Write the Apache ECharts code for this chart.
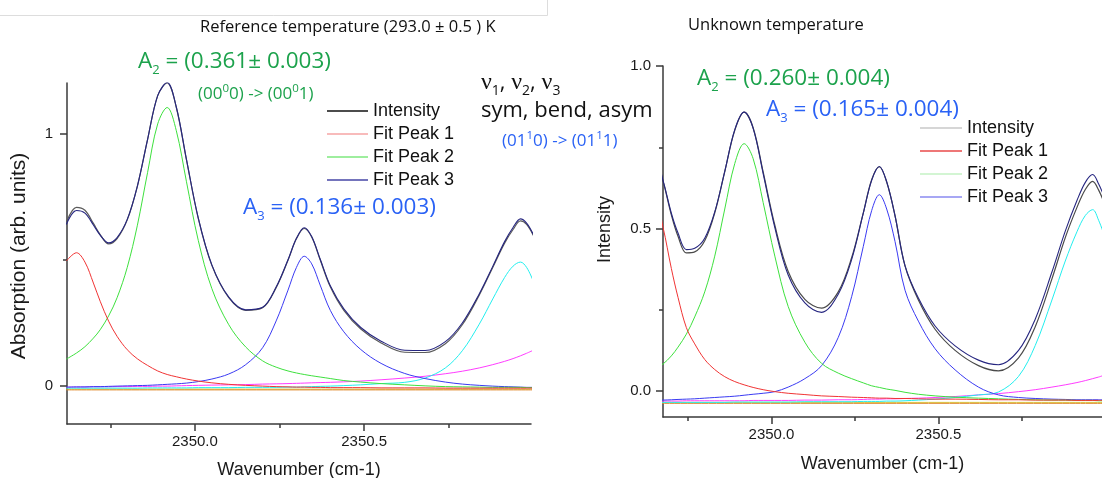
<!DOCTYPE html>
<html>
<head>
<meta charset="utf-8">
<script src="https://cdn.jsdelivr.net/npm/echarts@6.0.0/dist/echarts.min.js"></script>
<style>
html,body{margin:0;padding:0;background:#fff;}
#chart{width:1102px;height:478px;}
</style>
</head>
<body>
<div id="chart"></div>
<script>
// ---------- DATA ----------
const wavenumber = [2349.62, 2349.65, 2349.675, 2349.70, 2349.72, 2349.745, 2349.77, 2349.80, 2349.83, 2349.86,
  2349.89, 2349.918, 2349.945, 2349.975, 2350.01, 2350.05, 2350.10, 2350.15, 2350.20, 2350.24,
  2350.275, 2350.30, 2350.323, 2350.345, 2350.37, 2350.40, 2350.44, 2350.49, 2350.55, 2350.62,
  2350.68, 2350.74, 2350.79, 2350.84, 2350.88, 2350.915, 2350.94, 2350.962, 2350.98, 2351.00];

// Reference temperature panel
const refIntensity = [0.648,0.708,0.696,0.644,0.600,0.563,0.584,0.658,0.792,0.976,1.150,1.200,1.103,0.896,0.663,0.478,0.350,0.300,0.310,0.390,0.498,0.584,0.624,0.590,0.500,0.393,0.300,0.226,0.171,0.134,0.133,0.168,0.243,0.360,0.470,0.566,0.620,0.654,0.640,0.596];
const refFit = [0.640,0.695,0.685,0.638,0.598,0.567,0.588,0.660,0.792,0.976,1.150,1.202,1.105,0.898,0.665,0.480,0.352,0.302,0.312,0.392,0.500,0.585,0.627,0.592,0.503,0.397,0.306,0.232,0.178,0.142,0.141,0.176,0.250,0.365,0.474,0.572,0.628,0.662,0.645,0.600];
const refPeak1 = [0.495,0.528,0.491,0.408,0.336,0.257,0.197,0.144,0.108,0.082,0.060,0.046,0.037,0.028,0.020,0.013,0.007,0.003,0.000,-0.002,-0.003,-0.004,-0.004,-0.005,-0.005,-0.006,-0.006,-0.006,-0.007,-0.007,-0.007,-0.008,-0.008,-0.008,-0.008,-0.008,-0.008,-0.008,-0.008,-0.008];
const refPeak2 = [0.107,0.131,0.156,0.190,0.223,0.278,0.350,0.470,0.637,0.845,1.038,1.103,1.011,0.809,0.576,0.386,0.243,0.155,0.100,0.075,0.060,0.052,0.046,0.041,0.036,0.030,0.022,0.016,0.010,0.005,0.001,-0.002,-0.003,-0.004,-0.005,-0.005,-0.005,-0.005,-0.006,-0.006];
const refPeak3 = [-0.004,-0.003,-0.003,-0.002,-0.002,-0.001,0.000,0.001,0.002,0.003,0.005,0.007,0.009,0.012,0.018,0.028,0.048,0.085,0.152,0.258,0.380,0.470,0.514,0.484,0.400,0.300,0.215,0.145,0.090,0.050,0.030,0.016,0.008,0.003,0.000,-0.002,-0.003,-0.004,-0.005,-0.005];
const refPeak4 = [-0.008,-0.008,-0.008,-0.008,-0.008,-0.008,-0.008,-0.008,-0.008,-0.007,-0.007,-0.007,-0.007,-0.007,-0.006,-0.006,-0.006,-0.005,-0.005,-0.005,-0.004,-0.004,-0.003,-0.002,-0.001,0.000,0.002,0.005,0.010,0.015,0.032,0.072,0.140,0.245,0.345,0.430,0.475,0.491,0.470,0.415];
const refPeak5 = [-0.005,-0.004,-0.004,-0.003,-0.003,-0.003,-0.002,-0.002,-0.001,-0.001,0.000,0.000,0.001,0.002,0.003,0.004,0.005,0.006,0.008,0.009,0.010,0.011,0.012,0.013,0.014,0.015,0.017,0.020,0.025,0.032,0.039,0.049,0.059,0.072,0.085,0.098,0.109,0.120,0.130,0.142];

// Unknown temperature panel
const unkIntensity = [0.681,0.722,0.646,0.542,0.476,0.425,0.428,0.462,0.548,0.675,0.802,0.858,0.810,0.674,0.510,0.368,0.282,0.255,0.305,0.410,0.548,0.650,0.690,0.643,0.540,0.385,0.280,0.190,0.125,0.078,0.062,0.102,0.198,0.345,0.472,0.565,0.620,0.645,0.618,0.570];
const unkFit = [0.681,0.724,0.648,0.547,0.486,0.435,0.439,0.470,0.551,0.676,0.804,0.858,0.808,0.669,0.503,0.357,0.271,0.242,0.298,0.404,0.547,0.648,0.691,0.644,0.539,0.385,0.286,0.200,0.139,0.095,0.081,0.125,0.221,0.366,0.492,0.586,0.642,0.666,0.637,0.589];
const unkPeak1 = [0.569,0.596,0.504,0.377,0.288,0.195,0.145,0.097,0.066,0.044,0.029,0.019,0.011,0.004,-0.002,-0.007,-0.011,-0.015,-0.017,-0.019,-0.020,-0.021,-0.022,-0.022,-0.023,-0.023,-0.024,-0.025,-0.025,-0.026,-0.027,-0.027,-0.028,-0.028,-0.028,-0.029,-0.029,-0.029,-0.029,-0.029];
const unkPeak2 = [0.052,0.068,0.083,0.108,0.135,0.175,0.228,0.305,0.415,0.560,0.700,0.761,0.715,0.580,0.415,0.260,0.150,0.085,0.055,0.038,0.025,0.016,0.011,0.006,0.002,-0.004,-0.010,-0.015,-0.019,-0.022,-0.024,-0.026,-0.027,-0.028,-0.028,-0.029,-0.029,-0.029,-0.030,-0.030];
const unkPeak3 = [-0.029,-0.029,-0.028,-0.027,-0.026,-0.025,-0.024,-0.022,-0.020,-0.018,-0.016,-0.013,-0.010,-0.007,-0.002,0.012,0.038,0.078,0.165,0.290,0.445,0.555,0.604,0.560,0.460,0.310,0.215,0.130,0.065,0.012,-0.012,-0.020,-0.023,-0.025,-0.026,-0.027,-0.027,-0.027,-0.027,-0.027];
const unkPeak4 = [-0.035,-0.035,-0.035,-0.035,-0.035,-0.035,-0.035,-0.035,-0.035,-0.035,-0.034,-0.034,-0.034,-0.034,-0.034,-0.034,-0.033,-0.033,-0.033,-0.033,-0.032,-0.032,-0.032,-0.031,-0.031,-0.030,-0.028,-0.025,-0.020,-0.012,-0.003,0.045,0.140,0.280,0.400,0.490,0.540,0.558,0.525,0.470];
const unkPeak5 = [-0.031,-0.031,-0.031,-0.031,-0.031,-0.030,-0.030,-0.030,-0.030,-0.030,-0.030,-0.030,-0.029,-0.029,-0.029,-0.029,-0.028,-0.028,-0.027,-0.027,-0.026,-0.025,-0.025,-0.024,-0.024,-0.023,-0.022,-0.020,-0.017,-0.012,-0.008,-0.002,0.004,0.012,0.019,0.026,0.032,0.038,0.043,0.050];

// flat baseline components (end points)
const baseX = [2349.62, 2351.00];
const refBaseA = [-0.012, -0.012];
const refBaseB = [-0.015, -0.015];
const unkBaseA = [-0.035, -0.035];
const unkBaseB = [-0.038, -0.038];

// ticks
const xMajorTicks = [2350.0, 2350.5];
const xMinorTicks = [2349.75, 2350.25, 2350.75];
const refYTicks = [0, 1];
const refYMinor = [0.5];
const unkYTicks = [0, 0.5, 1.0];
const unkYMinor = [0.25, 0.75];

const legendNames = ['Intensity', 'Fit Peak 1', 'Fit Peak 2', 'Fit Peak 3'];

// ---------- CHART ----------
const SANS = 'Liberation Sans';
const HUM = 'Open Sans';
const GREEN = '#1ca24c';
const BLUE = '#2a62f5';
const AX = '#3a3a3a';

function pts(xs, ys) { return xs.map((x, i) => [x, ys[i]]); }
function line(name, xs, ys, color, gi, z, w) {
  return {
    type: 'line', name: name, xAxisIndex: gi, yAxisIndex: gi,
    data: pts(xs, ys), symbol: 'none', smooth: 0.35, silent: true,
    lineStyle: { color: color, width: w || 1 }, itemStyle: { color: color },
    z: z, animation: false
  };
}

function mainX(gi, min, max, gap) {
  return {
    type: 'value', gridIndex: gi, min: min, max: max, position: 'bottom',
    axisLine: { show: true, onZero: false, lineStyle: { color: AX, width: 1.5 } },
    axisTick: { show: true, customValues: xMajorTicks, length: 7, lineStyle: { color: AX, width: 1.5 } },
    axisLabel: { show: true, customValues: xMajorTicks, formatter: v => v.toFixed(1),
      fontFamily: SANS, fontSize: 15, color: '#1a1a1a', margin: 10 },
    splitLine: { show: false },
    name: 'Wavenumber (cm-1)', nameLocation: 'middle', nameGap: gap,
    nameTextStyle: { fontFamily: SANS, fontSize: 18, color: '#1a1a1a' }
  };
}
function minorX(gi, min, max) {
  return {
    type: 'value', gridIndex: gi, min: min, max: max, position: 'bottom',
    axisLine: { show: false, onZero: false },
    axisTick: { show: true, customValues: xMinorTicks, length: 4, lineStyle: { color: AX, width: 1.5 } },
    axisLabel: { show: false }, splitLine: { show: false }
  };
}
function mainY(gi, min, max, ticks, fmt, margin, name, gap, fs, pad) {
  return {
    type: 'value', gridIndex: gi, min: min, max: max, position: 'left',
    axisLine: { show: true, onZero: false, lineStyle: { color: AX, width: 1.5 } },
    axisTick: { show: true, customValues: ticks, length: 7, lineStyle: { color: AX, width: 1.5 } },
    axisLabel: { show: true, customValues: ticks, formatter: fmt,
      fontFamily: SANS, fontSize: 15, color: '#1a1a1a', margin: margin },
    splitLine: { show: false },
    name: name, nameLocation: 'middle', nameGap: gap,
    nameTextStyle: { fontFamily: SANS, fontSize: fs, color: '#1a1a1a', padding: pad }
  };
}
function minorY(gi, min, max, ticks) {
  return {
    type: 'value', gridIndex: gi, min: min, max: max, position: 'left',
    axisLine: { show: false, onZero: false },
    axisTick: { show: true, customValues: ticks, length: 4, lineStyle: { color: AX, width: 1.5 } },
    axisLabel: { show: false }, splitLine: { show: false }
  };
}

const refX = [2349.622, 2350.993];
const unkX = [2349.675, 2350.99];

const series = [
  line('Baseline A', baseX, refBaseA, '#c9c030', 0, 2),
  line('Baseline B', baseX, refBaseB, '#e08a30', 0, 2),
  line('Fit Peak 5', wavenumber, refPeak5, '#ff3cff', 0, 3),
  line('Fit Peak 4', wavenumber, refPeak4, '#22eeee', 0, 3),
  line('Fit Peak 3', wavenumber, refPeak3, '#3a3af2', 0, 4),
  line('Fit Peak 2', wavenumber, refPeak2, '#3ee03e', 0, 4),
  line('Fit Peak 1', wavenumber, refPeak1, '#f03434', 0, 4),
  line('Intensity', wavenumber, refIntensity, '#5a5a5a', 0, 5, 1.2),
  line('Fit', wavenumber, refFit, '#262680', 0, 6, 1.1),

  line('Baseline A', baseX, unkBaseA, '#d6c83a', 1, 2),
  line('Baseline B', baseX, unkBaseB, '#e08a30', 1, 2),
  line('Fit Peak 5', wavenumber, unkPeak5, '#ff3cff', 1, 3),
  line('Fit Peak 4', wavenumber, unkPeak4, '#22eeee', 1, 3),
  line('Fit Peak 3', wavenumber, unkPeak3, '#3a3af2', 1, 4),
  line('Fit Peak 2', wavenumber, unkPeak2, '#3ee03e', 1, 4),
  line('Fit Peak 1', wavenumber, unkPeak1, '#f03434', 1, 4),
  line('Intensity', wavenumber, unkIntensity, '#4a4a4a', 1, 5, 1.2),
  line('Fit', wavenumber, unkFit, '#262680', 1, 6, 1.1)
];

function legendData(colors) {
  return legendNames.map((n, i) => ({ name: n, icon: 'rect', itemStyle: { color: colors[i], borderWidth: 0 } }));
}

// rich text styles
const R = {
  big: { fontSize: 22.5, fontFamily: HUM, lineHeight: 30 },
  big2: { fontSize: 22, fontFamily: HUM, lineHeight: 30 },
  bsub: { fontSize: 13, fontFamily: HUM, lineHeight: 16, verticalAlign: 'bottom' },
  sm: { fontSize: 17, fontFamily: HUM, lineHeight: 23 },
  ssup: { fontSize: 11.5, fontFamily: HUM, lineHeight: 12, verticalAlign: 'top' },
  nu: { fontSize: 24, fontFamily: 'Liberation Serif', lineHeight: 30 },
  nsub: { fontSize: 14, fontFamily: HUM, lineHeight: 16, verticalAlign: 'bottom' }
};
function txt(x, y, text, color) {
  return { type: 'text', x: x, y: y, silent: true, z: 100,
    style: { text: text, rich: R, fill: color, align: 'left', verticalAlign: 'middle', font: '22px ' + HUM } };
}

const option = {
  animation: false,
  backgroundColor: '#ffffff',
  grid: [
    { left: 67, top: 83, width: 464, height: 341, containLabel: false, outerBoundsMode: 'none' },
    { left: 663, top: 66, width: 439, height: 351, containLabel: false, outerBoundsMode: 'none' }
  ],
  xAxis: [
    mainX(0, refX[0], refX[1], 37),
    mainX(1, unkX[0], unkX[1], 38),
    minorX(0, refX[0], refX[1]),
    minorX(1, unkX[0], unkX[1])
  ],
  yAxis: [
    mainY(0, -0.15, 1.2, refYTicks, v => String(Math.round(v)), 14, 'Absorption (arb. units)', 37.5, 21, [0, 5, 0, 0]),
    mainY(1, -0.08, 1.0, unkYTicks, v => v.toFixed(1), 12, 'Intensity', 49, 18, [0, 0, 0, 24]),
    minorY(0, -0.15, 1.2, refYMinor),
    minorY(1, -0.08, 1.0, unkYMinor)
  ],
  legend: [
    { show: true, orient: 'vertical', left: 327, top: 102, padding: 0, itemWidth: 41, itemHeight: 1.5, itemGap: 5,
      selectedMode: false, textStyle: { fontFamily: SANS, fontSize: 18, color: '#111' },
      data: legendData(['#111111', '#f6a4a4', '#7ee87e', '#4646a6']) },
    { show: true, orient: 'vertical', left: 920, top: 119, padding: 0, itemWidth: 42, itemHeight: 1.5, itemGap: 5,
      selectedMode: false, textStyle: { fontFamily: SANS, fontSize: 18, color: '#111' },
      data: legendData(['#c8c8c8', '#e84a4a', '#c4f2c4', '#8a8af0']) }
  ],
  series: series,
  graphic: [
    { type: 'polyline', silent: true, z: 1, shape: { points: [[0, 15.5], [547.5, 15.5], [547.5, 0]] },
      style: { stroke: '#dddddd', lineWidth: 1, fill: null } },
    { type: 'text', x: 200, y: 27, silent: true,
      style: { text: 'Reference temperature (293.0 \u00b1 0.5 ) K', fill: '#111', font: '16.5px ' + HUM, align: 'left', verticalAlign: 'middle' } },
    { type: 'text', x: 688, y: 25, silent: true,
      style: { text: 'Unknown temperature', fill: '#111', font: '16.5px ' + HUM, align: 'left', verticalAlign: 'middle' } },
    txt(138, 61.5, '{big|A}{bsub|2}{big| = (0.361\u00b1 0.003)}', GREEN),
    txt(198, 94, '{sm|(00}{ssup|0}{sm|0) -> (00}{ssup|0}{sm|1)}', GREEN),
    txt(481, 83, '{nu|\u03bd}{nsub|1}{big2|, }{nu|\u03bd}{nsub|2}{big2|, }{nu|\u03bd}{nsub|3}', '#111'),
    txt(481, 111, '{big2|sym, bend, asym}', '#111'),
    txt(502, 141, '{sm|(01}{ssup|1}{sm|0) -> (01}{ssup|1}{sm|1)}', BLUE),
    txt(243, 208, '{big|A}{bsub|3}{big| = (0.136\u00b1 0.003)}', BLUE),
    txt(697, 79, '{big|A}{bsub|2}{big| = (0.260\u00b1 0.004)}', GREEN),
    txt(766, 110, '{big|A}{bsub|3}{big| = (0.165\u00b1 0.004)}', BLUE)
  ]
};

const chart = echarts.init(document.getElementById('chart'), null, { renderer: 'canvas', width: 1102, height: 478 });
chart.setOption(option);
</script>
</body>
</html>
